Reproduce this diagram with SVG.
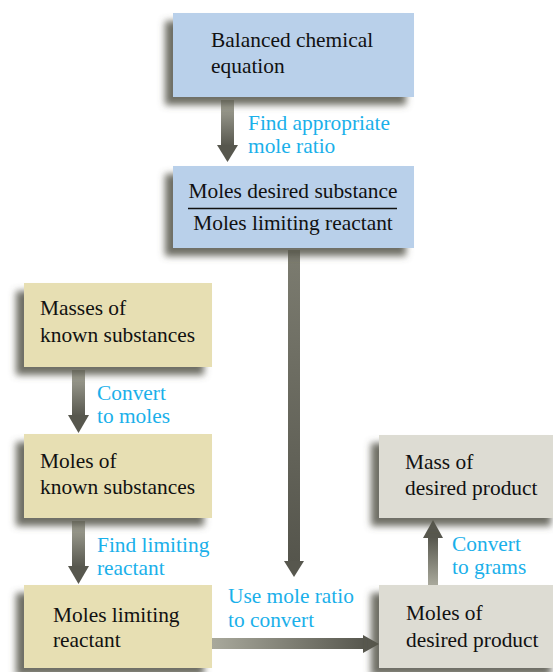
<svg xmlns="http://www.w3.org/2000/svg" width="553" height="672" viewBox="0 0 553 672">
<defs>
<filter id="sh" x="-20%" y="-20%" width="140%" height="150%">
<feGaussianBlur in="SourceAlpha" stdDeviation="3.5"/>
<feOffset dx="-8" dy="8" result="b"/>
<feFlood flood-color="#55554a" flood-opacity="0.85"/>
<feComposite in2="b" operator="in"/>
<feMerge><feMergeNode/><feMergeNode in="SourceGraphic"/></feMerge>
</filter>
<linearGradient id="gv" x1="0" y1="0" x2="0" y2="1"><stop offset="0" stop-color="#a9a99c"/><stop offset="1" stop-color="#57574e"/></linearGradient>
<linearGradient id="gu" x1="0" y1="1" x2="0" y2="0"><stop offset="0" stop-color="#a9a99c"/><stop offset="1" stop-color="#57574e"/></linearGradient>
<linearGradient id="gh" x1="0" y1="0" x2="1" y2="0"><stop offset="0" stop-color="#a9a99c"/><stop offset="1" stop-color="#57574e"/></linearGradient>
<linearGradient id="gl" x1="0" y1="0" x2="0" y2="1"><stop offset="0" stop-color="#7c7c70"/><stop offset="1" stop-color="#55554c"/></linearGradient>
</defs>
<style>
text{font-family:'Liberation Serif','Times New Roman',serif;font-size:21.4px}
.t{fill:#111}
.l{fill:#1ab0ea}
.blue{fill:#b9d0ea}
.tan{fill:#e7dfb3}
.gray{fill:#dddcd3}
.head{fill:#57574e}
</style>
<g id="connectors">
<rect x="221" y="100" width="13" height="46" fill="url(#gv)"/>
<polygon class="head" points="217,145 238,145 227.5,162"/>
<rect x="288" y="250" width="12" height="313" fill="url(#gl)"/>
<polygon class="head" points="284,561 304,561 294,577"/>
<rect x="72" y="370" width="13" height="46" fill="url(#gv)"/>
<polygon class="head" points="68,415 89,415 78.5,433"/>
<rect x="72" y="521" width="13" height="46" fill="url(#gv)"/>
<polygon class="head" points="68,566 89,566 78.5,584"/>
<rect x="428" y="537" width="10" height="48" fill="url(#gu)"/>
<polygon class="head" points="423,538 443,538 433,520"/>
<rect x="212" y="638" width="153" height="11" fill="url(#gh)"/>
<polygon class="head" points="363,635 363,653 379,644"/>
</g>
<g id="labels">
<text class="l" x="248" y="130">Find appropriate</text>
<text class="l" x="248" y="153">mole ratio</text>
<text class="l" x="97" y="400">Convert</text>
<text class="l" x="97" y="423">to moles</text>
<text class="l" x="97" y="552">Find limiting</text>
<text class="l" x="97" y="575">reactant</text>
<text class="l" x="452" y="551">Convert</text>
<text class="l" x="452" y="574">to grams</text>
<text class="l" x="228" y="603">Use mole ratio</text>
<text class="l" x="228" y="627">to convert</text>
</g>
<g id="n1">
<rect class="blue" x="173" y="13" width="241" height="84" filter="url(#sh)"/>
<text class="t" x="211" y="47">Balanced chemical</text>
<text class="t" x="211" y="73">equation</text>
</g>
<g id="n2">
<rect class="blue" x="173" y="166" width="241" height="82" filter="url(#sh)"/>
<text class="t" x="293" y="198" text-anchor="middle">Moles desired substance</text>
<line x1="188" y1="208.5" x2="397" y2="208.5" stroke="#111" stroke-width="1.3"/>
<text class="t" x="293" y="230" text-anchor="middle">Moles limiting reactant</text>
</g>
<g id="n3">
<rect class="tan" x="24" y="283" width="188" height="84" filter="url(#sh)"/>
<text class="t" x="40" y="315">Masses of</text>
<text class="t" x="40" y="342">known substances</text>
</g>
<g id="n4">
<rect class="tan" x="24" y="434" width="188" height="84" filter="url(#sh)"/>
<text class="t" x="40" y="468">Moles of</text>
<text class="t" x="40" y="494">known substances</text>
</g>
<g id="n5">
<rect class="tan" x="24" y="585" width="188" height="83" filter="url(#sh)"/>
<text class="t" x="53" y="622">Moles limiting</text>
<text class="t" x="53" y="647">reactant</text>
</g>
<g id="n6">
<rect class="gray" x="379" y="435" width="180" height="83" filter="url(#sh)"/>
<text class="t" x="405" y="469">Mass of</text>
<text class="t" x="405" y="495">desired product</text>
</g>
<g id="n7">
<rect class="gray" x="379" y="585" width="180" height="83" filter="url(#sh)"/>
<text class="t" x="406" y="620">Moles of</text>
<text class="t" x="406" y="647">desired product</text>
</g>
</svg>
